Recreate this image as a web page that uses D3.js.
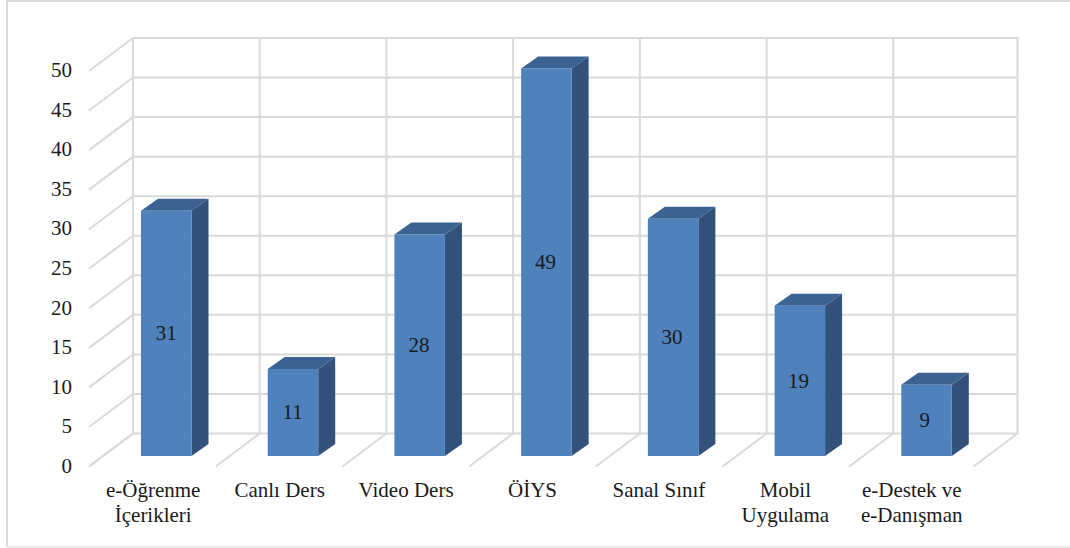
<!DOCTYPE html>
<html>
<head>
<meta charset="utf-8">
<script src="https://cdn.jsdelivr.net/npm/d3@7"></script>
<style>
  html, body { margin: 0; padding: 0; background: #fff; }
  svg { display: block; }
  text { font-family: "Liberation Serif", "Times New Roman", serif; font-size: 21px; fill: #1a1a1a; }
</style>
</head>
<body>
<div id="chart"></div>
<script>
var categories = ["e-Öğrenme|İçerikleri", "Canlı Ders", "Video Ders", "ÖİYS", "Sanal Sınıf", "Mobil|Uygulama", "e-Destek ve|e-Danışman"];
var values = [31, 11, 28, 49, 30, 19, 9];
var yTicks = [0, 5, 10, 15, 20, 25, 30, 35, 40, 45, 50];

var width = 1070, height = 548;
var depth = { x: -44, y: 33 };      // back wall to front edge of the floor
var barDepth = { x: 17, y: -12 };
var barInset = 8, barWidth = 50.5, barShift = 22.5;
var wallRight = 1017.5;             // the wall stops a little short of the last band
var gridColor = "#d9d9d9";

var svg = d3.select("#chart").append("svg")
  .attr("width", width)
  .attr("height", height);

// frame has no right side in the reference
var frame = svg.append("g").attr("stroke-width", 2);
frame.append("line").attr("x1", 6).attr("x2", width).attr("y1", 1).attr("y2", 1).attr("stroke", "#dadada");
frame.append("line").attr("x1", 7).attr("x2", 7).attr("y1", 0).attr("y2", height).attr("stroke", "#dadada");
frame.append("line").attr("x1", 6).attr("x2", width).attr("y1", 547).attr("y2", 547).attr("stroke", "#ececec");

// scales describe the back wall, everything else is offset from it
var x = d3.scaleBand().domain(categories).range([133, 1020]);
var y = d3.scaleLinear().domain([0, 50]).range([433.5, 38]);
// text runs on a slightly tighter step than the bars
var xText = d3.scaleBand().domain(categories).range([133, 1018]);

var grid = svg.append("g")
  .attr("stroke", gridColor)
  .attr("stroke-width", 2)
  .attr("fill", "none");

grid.selectAll(".h").data(yTicks).enter().append("line")
  .attr("x1", x.range()[0]).attr("x2", wallRight)
  .attr("y1", y).attr("y2", y);

grid.selectAll(".side").data(yTicks).enter().append("line")
  .attr("x1", x.range()[0]).attr("y1", y)
  .attr("x2", x.range()[0] + depth.x).attr("y2", function(d) { return y(d) + depth.y; });

var edges = categories.map(function(c) { return x(c); }).concat(wallRight);

grid.selectAll(".v").data(edges).enter().append("line")
  .attr("x1", function(d) { return d; }).attr("x2", function(d) { return d; })
  .attr("y1", y(50) - 1).attr("y2", y(0) + 1);

grid.selectAll(".floor").data(edges).enter().append("line")
  .attr("x1", function(d) { return d; }).attr("y1", y(0))
  .attr("x2", function(d) { return d + depth.x; }).attr("y2", y(0) + depth.y);

// y axis sits at the front of the side wall
var yAxis = d3.axisLeft(y).tickValues(yTicks).tickSize(0).tickPadding(0);
var axisG = svg.append("g")
  .attr("transform", "translate(72," + (depth.y - 1) + ")")
  .call(yAxis);
axisG.select(".domain").remove();
axisG.attr("font-family", null).attr("font-size", null);

var bars = svg.selectAll(".bar").data(categories).enter().append("g").attr("class", "bar");

function barLeft(c) { return x(c) + barInset; }
function barTop(i) { return y(values[i]) + barShift; }
var base = y(0) + barShift;

// right side
bars.append("path")
  .attr("fill", "#32527b")
  .attr("d", function(c, i) {
    var r = barLeft(c) + barWidth;
    return "M" + r + "," + barTop(i) + "l" + barDepth.x + "," + barDepth.y +
      "V" + (base + barDepth.y) + "l" + (-barDepth.x) + "," + (-barDepth.y) + "Z";
  });

// top
bars.append("path")
  .attr("fill", "#3b6291")
  .attr("d", function(c, i) {
    return "M" + barLeft(c) + "," + barTop(i) + "l" + barDepth.x + "," + barDepth.y +
      "h" + barWidth + "l" + (-barDepth.x) + "," + (-barDepth.y) + "Z";
  });

// front
bars.append("rect")
  .attr("x", barLeft)
  .attr("y", function(c, i) { return barTop(i); })
  .attr("width", barWidth)
  .attr("height", function(c, i) { return base - barTop(i); })
  .attr("fill", "#4f81bd");

bars.append("text")
  .attr("x", function(c) { return xText(c) + barInset + barWidth / 2; })
  .attr("y", function(c, i) { return (barTop(i) + base) / 2; })
  .attr("dy", "0.33em")
  .attr("text-anchor", "middle")
  .text(function(c, i) { return values[i]; });

// category labels, split on |
var labels = svg.selectAll(".cat").data(categories).enter().append("text")
  .attr("class", "cat")
  .attr("text-anchor", "middle")
  .attr("transform", function(c) { return "translate(" + (xText(c) + xText.bandwidth() / 2 + depth.x + 1) + ",497)"; });

labels.selectAll("tspan").data(function(c) { return c.split("|"); }).enter().append("tspan")
  .attr("x", 0)
  .attr("y", function(d, i) { return i * 25; })
  .text(function(d) { return d; });
</script>
</body>
</html>
